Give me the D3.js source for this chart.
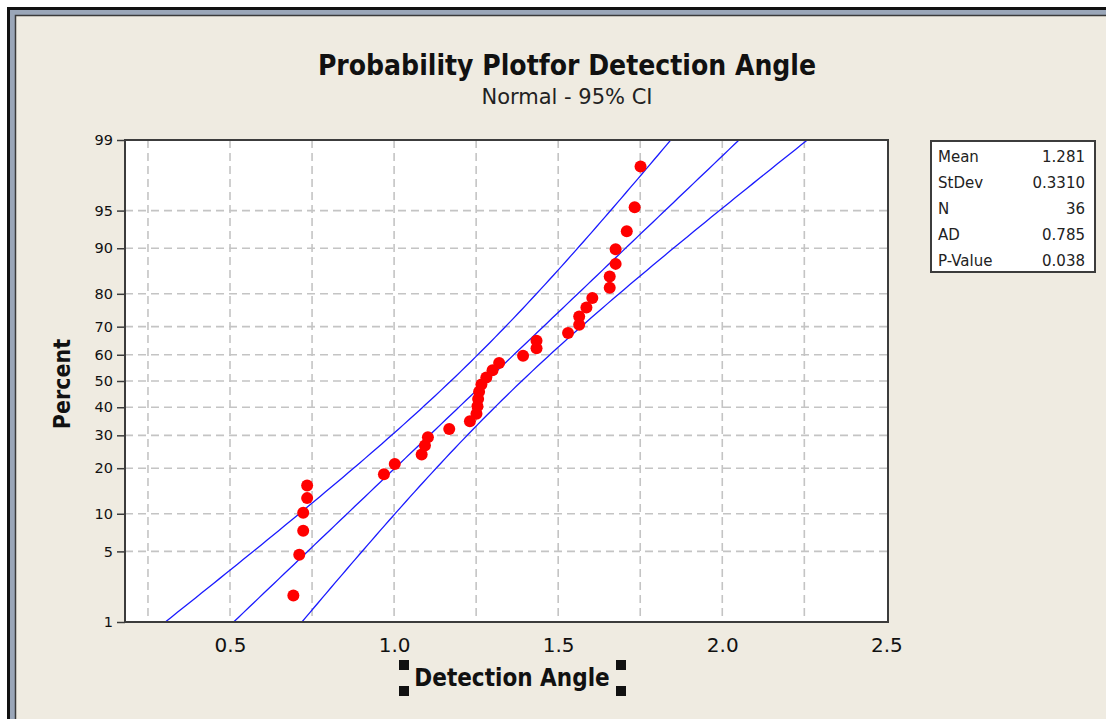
<!DOCTYPE html>
<html>
<head>
    <meta charset="utf-8">
    <style>
        body {
            margin: 0;
            background: #fff;
            overflow: hidden;
        }
        svg {
            display: block;
            font-family: 'DejaVu Sans', sans-serif;
        }
        .grid line {
            stroke: #c4c4c4;
            stroke-width: 1.6;
            stroke-dasharray: 8 5;
        }
    </style>
</head>
<body>
<svg width="1106" height="719"></svg>
<script src="https://d3js.org/d3.v7.min.js"></script>
<script>
    // Detection angle values, sorted
    let angles = [0.693, 0.711, 0.723, 0.723, 0.735, 0.735, 0.969, 1.002, 1.084, 1.094,
                  1.103, 1.168, 1.231, 1.251, 1.254, 1.256, 1.259, 1.266, 1.281, 1.300,
                  1.320, 1.393, 1.434, 1.434, 1.530, 1.564, 1.564, 1.586, 1.604, 1.657,
                  1.657, 1.675, 1.675, 1.709, 1.733, 1.751];

    let statNames = ["Mean", "StDev", "N", "AD", "P-Value"];
    let statValues = ["1.281", "0.3310", "36", "0.785", "0.038"];

    let percentTicks = [1, 5, 10, 20, 30, 40, 50, 60, 70, 80, 90, 95, 99];
    let percentGrid = [5, 10, 20, 30, 40, 50, 60, 70, 80, 90, 95];
    let angleTicks = [0.5, 1.0, 1.5, 2.0, 2.5];
    let angleGrid = [0.25, 0.5, 0.75, 1.0, 1.25, 1.5, 1.75, 2.0, 2.25];

    let mean = +statValues[0], sd = +statValues[1], n = +statValues[2];

    // inverse normal cdf (Acklam)
    function qnorm(p) {
        let a = [-39.69683028665376, 220.9460984245205, -275.9285104469687, 138.3577518672690, -30.66479806614716, 2.506628277459239];
        let b = [-54.47609879822406, 161.5858368580409, -155.6989798598866, 66.80131188771972, -13.28068155288572];
        let c = [-0.007784894002430293, -0.3223964580411365, -2.400758277161838, -2.549732539343734, 4.374664141464968, 2.938163982698783];
        let d = [0.007784695709041462, 0.3224671290700398, 2.445134137142996, 3.754408661907416];
        let q, r;
        if (p < 0.02425) {
            q = Math.sqrt(-2 * Math.log(p));
            return (((((c[0]*q+c[1])*q+c[2])*q+c[3])*q+c[4])*q+c[5]) / ((((d[0]*q+d[1])*q+d[2])*q+d[3])*q+1);
        } else if (p > 1 - 0.02425) {
            q = Math.sqrt(-2 * Math.log(1 - p));
            return -(((((c[0]*q+c[1])*q+c[2])*q+c[3])*q+c[4])*q+c[5]) / ((((d[0]*q+d[1])*q+d[2])*q+d[3])*q+1);
        }
        q = p - 0.5; r = q * q;
        return (((((a[0]*r+a[1])*r+a[2])*r+a[3])*r+a[4])*r+a[5])*q / (((((b[0]*r+b[1])*r+b[2])*r+b[3])*r+b[4])*r+1);
    }

    let svg = d3.select("svg");
    let plot = { left: 125, right: 888, top: 140, bottom: 622 };
    let condensed = "'DejaVu Sans Condensed', 'DejaVu Sans', sans-serif";

    // window frame
    svg.append("rect").attr("x", 8.5).attr("y", 8.5).attr("width", 1200).attr("height", 800)
        .attr("fill", "#9aa6b8").attr("stroke", "#111").attr("stroke-width", 3);
    svg.append("rect").attr("x", 15.5).attr("y", 15.5).attr("width", 1200).attr("height", 800)
        .attr("fill", "#efebe1").attr("stroke", "#3a3a3a").attr("stroke-width", 1.5);

    let x = d3.scaleLinear().domain([0.18, 2.505]).range([plot.left, plot.right]);
    let zlo = qnorm(0.01), zhi = qnorm(0.99);
    let y = d3.scaleLinear().domain([zlo, zhi]).range([plot.bottom, plot.top]);
    let yp = p => y(qnorm(p / 100));

    svg.append("rect")
        .attr("x", plot.left).attr("y", plot.top)
        .attr("width", plot.right - plot.left).attr("height", plot.bottom - plot.top)
        .attr("fill", "#fff");

    let grid = svg.append("g").attr("class", "grid");
    grid.selectAll(".vg").data(angleGrid).join("line")
        .attr("x1", d => x(d)).attr("x2", d => x(d))
        .attr("y1", plot.top).attr("y2", plot.bottom);
    grid.selectAll(".hg").data(percentGrid).join("line")
        .attr("class", "hg")
        .attr("x1", plot.left).attr("x2", plot.right)
        .attr("y1", d => yp(d)).attr("y2", d => yp(d));

    // fitted line and 95% CI
    let defs = svg.append("defs");
    defs.append("clipPath").attr("id", "clip").append("rect")
        .attr("x", plot.left).attr("y", plot.top)
        .attr("width", plot.right - plot.left).attr("height", plot.bottom - plot.top);

    let zs = d3.range(0, 101).map(i => zlo + (zhi - zlo) * i / 100);
    let se = z => 1.96 * sd * Math.sqrt((1 + z * z / 2) / n);
    let lineGen = f => d3.line().x(z => x(f(z))).y(z => y(z))(zs);
    let lines = svg.append("g").attr("clip-path", "url(#clip)")
        .attr("fill", "none").attr("stroke", "#1a1aff").attr("stroke-width", 1.3);
    lines.append("path").attr("d", lineGen(z => mean + sd * z));
    lines.append("path").attr("d", lineGen(z => mean + sd * z - se(z)));
    lines.append("path").attr("d", lineGen(z => mean + sd * z + se(z)));

    // points
    svg.append("g").selectAll("circle")
        .data(angles)
        .join("circle")
        .attr("cx", d => x(d))
        .attr("cy", (d, i) => y(qnorm((i + 1 - 0.3) / (n + 0.4))))
        .attr("r", 6)
        .attr("fill", "#ff0000");

    // frame of plot
    svg.append("rect")
        .attr("x", plot.left).attr("y", plot.top)
        .attr("width", plot.right - plot.left).attr("height", plot.bottom - plot.top)
        .attr("fill", "none").attr("stroke", "#3c3c3c").attr("stroke-width", 2);

    // axes
    let yAxis = svg.append("g")
        .attr("transform", `translate(${plot.left},0)`)
        .call(d3.axisLeft(d3.scaleLinear().domain([zlo, zhi]).range([plot.bottom, plot.top]))
            .tickValues(percentTicks.map(p => qnorm(p / 100)))
            .tickFormat((d, i) => percentTicks[i])
            .tickSize(8).tickPadding(4));
    yAxis.select(".domain").remove();
    yAxis.selectAll("line").attr("stroke", "#3c3c3c").attr("stroke-width", 1.5);
    yAxis.selectAll("text").attr("font-size", 14.5).attr("fill", "#111")
        .attr("font-family", "'DejaVu Sans', sans-serif");

    let xAxis = svg.append("g")
        .attr("transform", `translate(0,${plot.bottom})`)
        .call(d3.axisBottom(x).tickValues(angleTicks).tickFormat(d3.format(".1f"))
            .tickSize(0).tickPadding(16));
    xAxis.select(".domain").remove();
    xAxis.selectAll("text").attr("font-size", 20).attr("fill", "#111")
        .attr("font-family", "'DejaVu Sans', sans-serif");

    // titles
    svg.append("text").attr("x", 567).attr("y", 75).attr("text-anchor", "middle")
        .attr("font-family", condensed)
        .attr("font-size", 28).attr("font-weight", "bold").attr("fill", "#111")
        .text("Probability Plotfor Detection Angle");
    svg.append("text").attr("x", 567).attr("y", 104).attr("text-anchor", "middle")
        .attr("font-size", 21).attr("fill", "#222")
        .text("Normal - 95% CI");

    svg.append("text")
        .attr("transform", "translate(70,384) rotate(-90)")
        .attr("text-anchor", "middle")
        .attr("font-family", condensed)
        .attr("font-size", 23).attr("font-weight", "bold").attr("fill", "#111")
        .text("Percent");

    svg.append("text").attr("x", 512).attr("y", 686).attr("text-anchor", "middle")
        .attr("font-family", condensed)
        .attr("font-size", 24).attr("font-weight", "bold").attr("fill", "#111")
        .text("Detection Angle");

    // selection handles around the axis label
    let handles = [[399, 660], [399, 686], [616, 660], [616, 686]];
    svg.append("g").selectAll("rect").data(handles).join("rect")
        .attr("x", d => d[0]).attr("y", d => d[1])
        .attr("width", 10).attr("height", 10).attr("fill", "#111");

    // stats box
    let box = svg.append("g").attr("transform", "translate(931,141)");
    box.append("rect").attr("width", 164).attr("height", 131)
        .attr("fill", "#fff").attr("stroke", "#3c3c3c").attr("stroke-width", 2);
    box.selectAll(".nm").data(statNames).join("text")
        .attr("x", 7).attr("y", (d, i) => 21 + i * 26)
        .attr("font-size", 15).attr("fill", "#222").text(d => d);
    box.selectAll(".vl").data(statValues).join("text")
        .attr("x", 154).attr("y", (d, i) => 21 + i * 26)
        .attr("text-anchor", "end")
        .attr("font-size", 15).attr("fill", "#222").text(d => d);
</script>
</body>
</html>
